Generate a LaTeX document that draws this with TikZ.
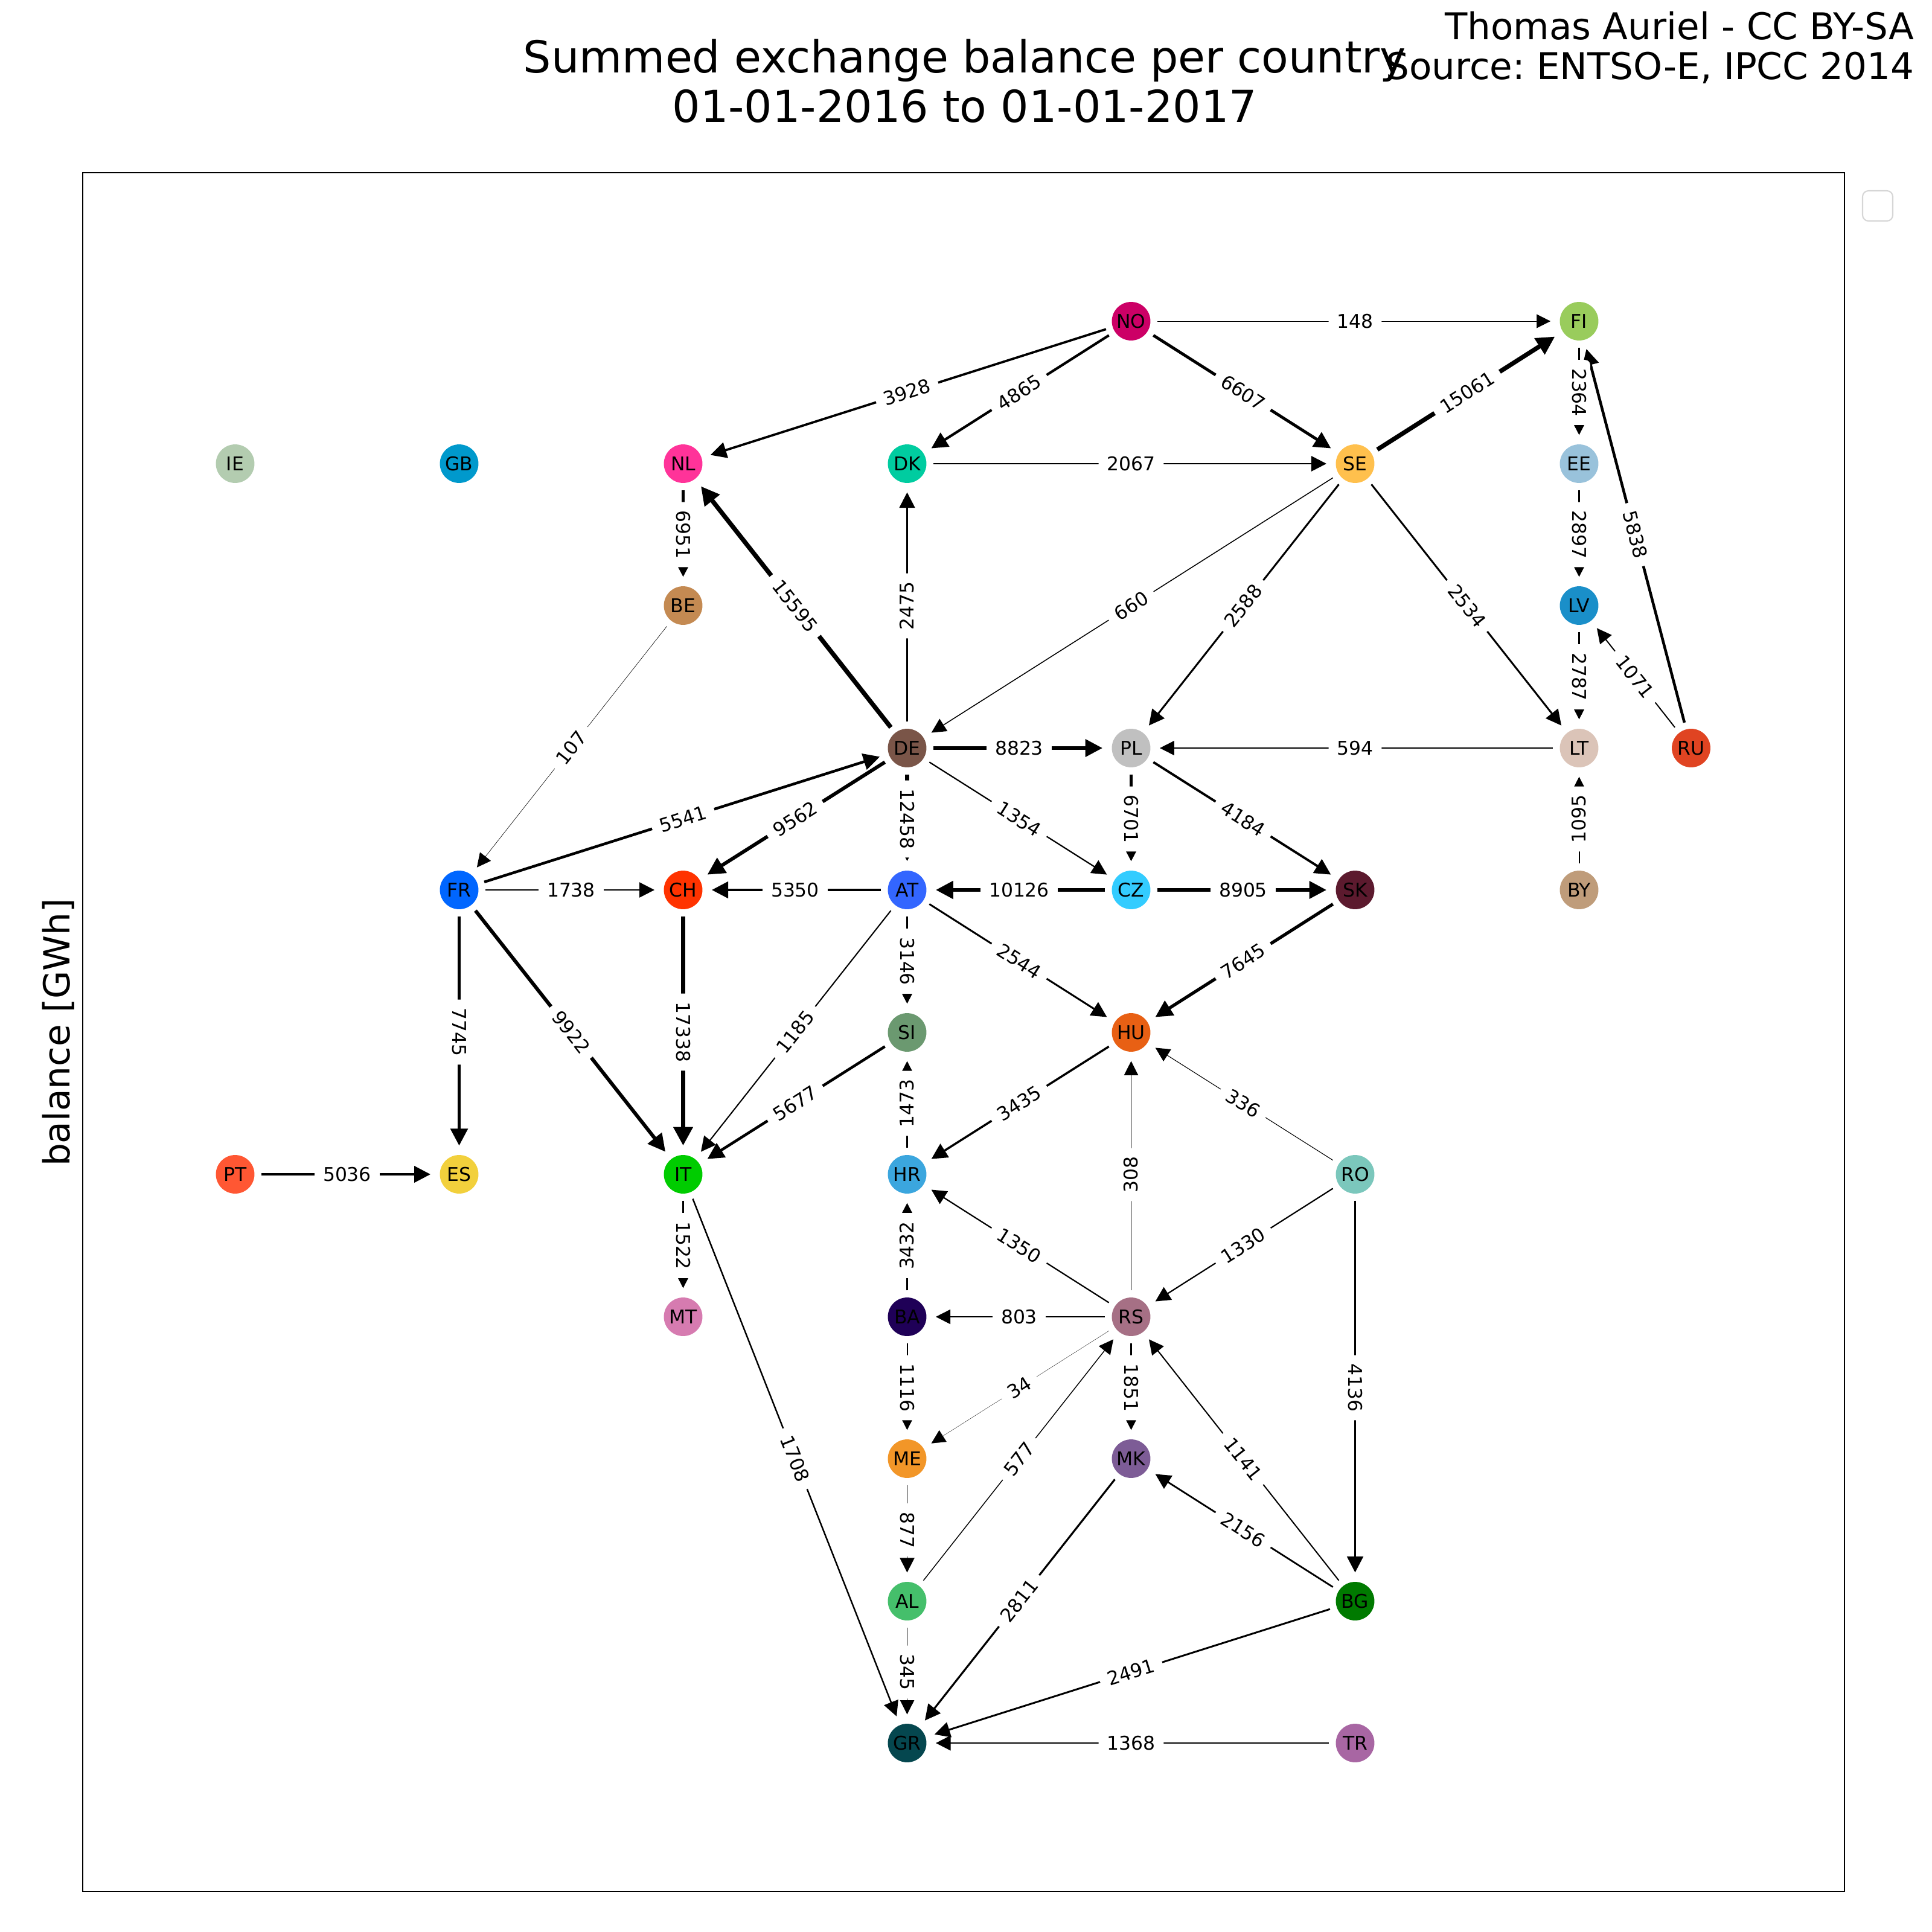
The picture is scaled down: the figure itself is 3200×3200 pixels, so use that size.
\documentclass[tikz,border=0pt]{standalone}
\usepackage{fontspec}
\setmainfont{DejaVu Sans}
\usetikzlibrary{arrows.meta}
\pgfdeclarelayer{lab}
\pgfsetlayers{main,lab}
\frenchspacing

\definecolor{cNO}{RGB}{204,0,102}
\definecolor{cFI}{RGB}{153,204,92}
\definecolor{cIE}{RGB}{179,204,176}
\definecolor{cGB}{RGB}{0,153,204}
\definecolor{cNL}{RGB}{255,51,153}
\definecolor{cDK}{RGB}{0,204,160}
\definecolor{cSE}{RGB}{255,192,77}
\definecolor{cEE}{RGB}{153,194,219}
\definecolor{cBE}{RGB}{196,138,82}
\definecolor{cLV}{RGB}{26,143,201}
\definecolor{cDE}{RGB}{122,85,72}
\definecolor{cPL}{RGB}{192,192,192}
\definecolor{cLT}{RGB}{219,196,184}
\definecolor{cRU}{RGB}{224,68,34}
\definecolor{cFR}{RGB}{0,102,255}
\definecolor{cCH}{RGB}{255,51,0}
\definecolor{cAT}{RGB}{51,102,255}
\definecolor{cCZ}{RGB}{51,204,255}
\definecolor{cSK}{RGB}{92,26,46}
\definecolor{cBY}{RGB}{191,156,122}
\definecolor{cSI}{RGB}{107,153,112}
\definecolor{cHU}{RGB}{232,96,20}
\definecolor{cPT}{RGB}{255,87,51}
\definecolor{cES}{RGB}{242,208,60}
\definecolor{cIT}{RGB}{0,204,0}
\definecolor{cHR}{RGB}{59,166,222}
\definecolor{cRO}{RGB}{123,199,188}
\definecolor{cMT}{RGB}{214,123,176}
\definecolor{cBA}{RGB}{31,0,87}
\definecolor{cRS}{RGB}{166,112,133}
\definecolor{cME}{RGB}{242,150,40}
\definecolor{cMK}{RGB}{125,92,150}
\definecolor{cAL}{RGB}{69,191,107}
\definecolor{cBG}{RGB}{0,122,0}
\definecolor{cGR}{RGB}{5,71,79}
\definecolor{cTR}{RGB}{168,102,163}
\definecolor{legendgray}{RGB}{214,214,214}

\tikzset{
  country/.style={circle, minimum size=23pt, inner sep=0pt, font=\fontsize{11.3}{13}\selectfont, text=black},
  elab/.style={fill=white, rounded corners=3pt, inner xsep=5pt, inner ysep=2.5pt,
    font=\fontsize{11.3}{13}\selectfont, text height=8.2pt, text depth=0pt},
  arr/.style={-{Triangle[length={8pt 1.1}, width={8pt 1.1}]}, shorten <=4pt, shorten >=5.4pt, draw=black},
  titletext/.style={font=\fontsize{26.3}{30}\selectfont, anchor=base},
  credit/.style={font=\fontsize{22}{26}\selectfont, anchor=base east},
}

% \edg{source}{target}{label}{line width in pt}
\newcommand\edg[4]{%
  \draw[arr, line width=#4pt] (#1) -- (#2);
  \begin{pgfonlayer}{lab}\path (#1) -- (#2) node[elab, midway, sloped] {#3};\end{pgfonlayer}}

\begin{document}
\begin{tikzpicture}[x=0.36pt, y=-0.36pt]
\useasboundingbox (0,0) rectangle (3200,3200);
\fill[white] (0,0) rectangle (3200,3200);

% axes frame and empty legend
\draw[line width=0.8pt] (137,286) rectangle (3055,3133);
\draw[legendgray, line width=0.75pt, rounded corners=3.5pt] (3085,316) rectangle (3135,366);

% texts
\node[titletext] (t1) at (1598,120) {Summed exchange balance per country};
\node[titletext] (t2) at (1598,202) {01-01-2016 to 01-01-2017};
\node[credit] (c1) at (3180,65) {Thomas Auriel - CC BY-SA};
\node[credit] (c2) at (3180,131) {Source: ENTSO-E, IPCC 2014};
\node[rotate=90, anchor=base, font=\fontsize{21.5}{26}\selectfont] (ylab) at (115,1710) {balance [GWh]};

% nodes
\node[country, fill=cNO] (NO) at (1873.5,532) {NO};
\node[country, fill=cFI] (FI) at (2615.5,532) {FI};
\node[country, fill=cIE] (IE) at (389.5,768) {IE};
\node[country, fill=cGB] (GB) at (760.5,768) {GB};
\node[country, fill=cNL] (NL) at (1131.5,768) {NL};
\node[country, fill=cDK] (DK) at (1502.5,768) {DK};
\node[country, fill=cSE] (SE) at (2244.5,768) {SE};
\node[country, fill=cEE] (EE) at (2615.5,768) {EE};
\node[country, fill=cBE] (BE) at (1131.5,1003) {BE};
\node[country, fill=cLV] (LV) at (2615.5,1003) {LV};
\node[country, fill=cDE] (DE) at (1502.5,1239) {DE};
\node[country, fill=cPL] (PL) at (1873.5,1239) {PL};
\node[country, fill=cLT] (LT) at (2615.5,1239) {LT};
\node[country, fill=cRU] (RU) at (2801,1239) {RU};
\node[country, fill=cFR] (FR) at (760.5,1474) {FR};
\node[country, fill=cCH] (CH) at (1131.5,1474) {CH};
\node[country, fill=cAT] (AT) at (1502.5,1474) {AT};
\node[country, fill=cCZ] (CZ) at (1873.5,1474) {CZ};
\node[country, fill=cSK] (SK) at (2244.5,1474) {SK};
\node[country, fill=cBY] (BY) at (2615.5,1474) {BY};
\node[country, fill=cSI] (SI) at (1502.5,1710) {SI};
\node[country, fill=cHU] (HU) at (1873.5,1710) {HU};
\node[country, fill=cPT] (PT) at (389.5,1945) {PT};
\node[country, fill=cES] (ES) at (760.5,1945) {ES};
\node[country, fill=cIT] (IT) at (1131.5,1945) {IT};
\node[country, fill=cHR] (HR) at (1502.5,1945) {HR};
\node[country, fill=cRO] (RO) at (2244.5,1945) {RO};
\node[country, fill=cMT] (MT) at (1131.5,2181) {MT};
\node[country, fill=cBA] (BA) at (1502.5,2181) {BA};
\node[country, fill=cRS] (RS) at (1873.5,2181) {RS};
\node[country, fill=cME] (ME) at (1502.5,2416) {ME};
\node[country, fill=cMK] (MK) at (1873.5,2416) {MK};
\node[country, fill=cAL] (AL) at (1502.5,2652) {AL};
\node[country, fill=cBG] (BG) at (2244.5,2652) {BG};
\node[country, fill=cGR] (GR) at (1502.5,2887) {GR};
\node[country, fill=cTR] (TR) at (2244.5,2887) {TR};

% edges
\edg{NO}{FI}{148}{0.263}
\edg{NO}{NL}{3928}{1.354}
\edg{NO}{DK}{4865}{1.507}
\edg{NO}{SE}{6607}{1.756}
\edg{SE}{FI}{15061}{2.651}
\edg{FI}{EE}{2364}{1.050}
\edg{RU}{FI}{5838}{1.650}
\edg{DK}{SE}{2067}{0.982}
\edg{DE}{DK}{2475}{1.075}
\edg{DE}{NL}{15595}{2.697}
\edg{NL}{BE}{6951}{1.801}
\edg{SE}{DE}{660}{0.555}
\edg{SE}{PL}{2588}{1.099}
\edg{SE}{LT}{2534}{1.087}
\edg{EE}{LV}{2897}{1.163}
\edg{LV}{LT}{2787}{1.140}
\edg{RU}{LV}{1071}{0.707}
\edg{LT}{PL}{594}{0.526}
\edg{BY}{LT}{1095}{0.715}
\edg{BE}{FR}{107}{0.223}
\edg{FR}{DE}{5541}{1.608}
\edg{DE}{CH}{9562}{2.112}
\edg{DE}{PL}{8823}{2.029}
\edg{DE}{AT}{12458}{2.411}
\edg{DE}{CZ}{1354}{0.795}
\edg{PL}{CZ}{6701}{1.768}
\edg{PL}{SK}{4184}{1.397}
\edg{FR}{CH}{1738}{0.900}
\edg{AT}{CH}{5350}{1.580}
\edg{CZ}{AT}{10126}{2.174}
\edg{CZ}{SK}{8905}{2.038}
\edg{FR}{ES}{7745}{1.901}
\edg{FR}{IT}{9922}{2.152}
\edg{CH}{IT}{17338}{2.844}
\edg{AT}{IT}{1185}{0.744}
\edg{AT}{SI}{3146}{1.212}
\edg{AT}{HU}{2544}{1.089}
\edg{SK}{HU}{7645}{1.889}
\edg{SI}{IT}{5677}{1.628}
\edg{HR}{SI}{1473}{0.829}
\edg{HU}{HR}{3435}{1.266}
\edg{RO}{HU}{336}{0.396}
\edg{RS}{HU}{308}{0.379}
\edg{PT}{ES}{5036}{1.533}
\edg{IT}{MT}{1522}{0.843}
\edg{IT}{GR}{1708}{0.893}
\edg{RS}{HR}{1350}{0.794}
\edg{BA}{HR}{3432}{1.265}
\edg{RO}{RS}{1330}{0.788}
\edg{RO}{BG}{4136}{1.389}
\edg{RS}{BA}{803}{0.612}
\edg{BA}{ME}{1116}{0.722}
\edg{RS}{ME}{34}{0.126}
\edg{RS}{MK}{1851}{0.929}
\edg{AL}{RS}{577}{0.519}
\edg{BG}{RS}{1141}{0.730}
\edg{ME}{AL}{877}{0.640}
\edg{BG}{MK}{2156}{1.003}
\edg{MK}{GR}{2811}{1.145}
\edg{AL}{GR}{345}{0.401}
\edg{BG}{GR}{2491}{1.078}
\edg{TR}{GR}{1368}{0.799}
\end{tikzpicture}
\end{document}
